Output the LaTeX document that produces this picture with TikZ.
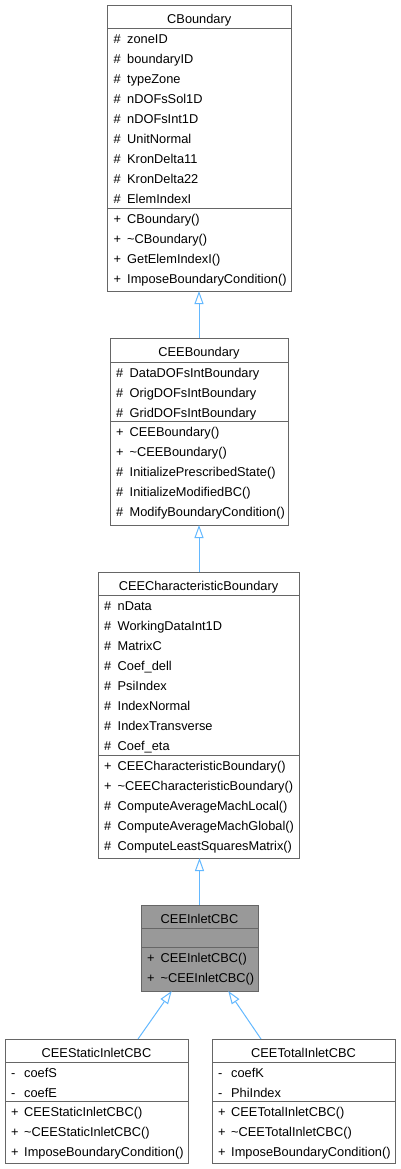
\documentclass[tikz,border=0pt]{standalone}
\usepackage{fontspec}
\setmainfont{Liberation Sans}
\usetikzlibrary{arrows.meta}
\definecolor{boxgray}{HTML}{666666}
\definecolor{edgeblue}{HTML}{63B8FF}
\definecolor{hilite}{HTML}{999999}

\begin{document}
\begin{tikzpicture}[
    x=1bp, y=-1bp,
    font=\fontsize{12.85pt}{15pt}\selectfont,
    classbox/.style={
      draw=boxgray,
      fill=white,
      line width=1bp,
      inner sep=0pt,
      outer sep=0pt,
      anchor=north west
    },
    divider/.style={draw=boxgray, line width=1bp},
    title/.style={anchor=base, inner sep=0pt},
    member/.style={anchor=base west, inner sep=0pt},
    inherit/.style={
      draw=edgeblue,
      line width=1bp,
      -{Triangle[open, length=13bp, width=9bp]}
    }
  ]
  \useasboundingbox (0,0) rectangle (400,1169);

  % CBoundary
  \node[classbox, minimum width=183.5bp, minimum height=286bp] (cb) at (107.5,5) {};
  \node[title] (cb-name) at (cb.north |- 0,23) {CBoundary};
  \draw[divider] (cb.west |- 0,28) -- (cb.east |- 0,28);
  \draw[divider] (cb.west |- 0,208) -- (cb.east |- 0,208);
  \foreach \n [count=\i] in {zoneID, boundaryID, typeZone, nDOFsSol1D, nDOFsInt1D,
      UnitNormal, KronDelta11, KronDelta22, ElemIndexI} {
    \node[member] (cb-s\i) at (113.5,23+20*\i) {\#};
    \node[member] (cb-a\i) at (127,23+20*\i) {\n};
  }
  \foreach \s/\n [count=\i] in {+/CBoundary(), +/\textasciitilde CBoundary(),
      +/GetElemIndexI(), +/ImposeBoundaryCondition()} {
    \node[member] (cb-t\i) at (113.5,203+20*\i) {\s};
    \node[member] (cb-m\i) at (127,203+20*\i) {\n};
  }

  % CEEBoundary
  \node[classbox, minimum width=178bp, minimum height=187bp] (ceeb) at (110,338) {};
  \node[title] (ceeb-name) at (ceeb.north |- 0,356) {CEEBoundary};
  \draw[divider] (ceeb.west |- 0,362) -- (ceeb.east |- 0,362);
  \draw[divider] (ceeb.west |- 0,421) -- (ceeb.east |- 0,421);
  \foreach \n [count=\i] in {DataDOFsIntBoundary, OrigDOFsIntBoundary, GridDOFsIntBoundary} {
    \node[member] (ceeb-s\i) at (116,357+20*\i) {\#};
    \node[member] (ceeb-a\i) at (129.5,357+20*\i) {\n};
  }
  \foreach \s/\n [count=\i] in {+/CEEBoundary(), +/\textasciitilde CEEBoundary(),
      \#/InitializePrescribedState(), \#/InitializeModifiedBC(),
      \#/ModifyBoundaryCondition()} {
    \node[member] (ceeb-t\i) at (116,416+20*\i) {\s};
    \node[member] (ceeb-m\i) at (129.5,416+20*\i) {\n};
  }

  % CEECharacteristicBoundary
  \node[classbox, minimum width=201bp, minimum height=286bp] (ceecb) at (98,572) {};
  \node[title] (ceecb-name) at (ceecb.north |- 0,590) {CEECharacteristicBoundary};
  \draw[divider] (ceecb.west |- 0,595) -- (ceecb.east |- 0,595);
  \draw[divider] (ceecb.west |- 0,755) -- (ceecb.east |- 0,755);
  \foreach \n [count=\i] in {nData, WorkingDataInt1D, MatrixC, Coef\_dell, PsiIndex,
      IndexNormal, IndexTransverse, Coef\_eta} {
    \node[member] (ceecb-s\i) at (104,590+20*\i) {\#};
    \node[member] (ceecb-a\i) at (117.5,590+20*\i) {\n};
  }
  \foreach \s/\n [count=\i] in {+/CEECharacteristicBoundary(),
      +/\textasciitilde CEECharacteristicBoundary(), \#/ComputeAverageMachLocal(),
      \#/ComputeAverageMachGlobal(), \#/ComputeLeastSquaresMatrix()} {
    \node[member] (ceecb-t\i) at (104,750+20*\i) {\s};
    \node[member] (ceecb-m\i) at (117.5,750+20*\i) {\n};
  }

  % CEEInletCBC
  \node[classbox, fill=hilite, minimum width=117bp, minimum height=86bp] (inlet) at (141,905) {};
  \node[title] (inlet-name) at (inlet.north |- 0,923) {CEEInletCBC};
  \draw[divider] (inlet.west |- 0,928) -- (inlet.east |- 0,928);
  \draw[divider] (inlet.west |- 0,947) -- (inlet.east |- 0,947);
  \foreach \s/\n [count=\i] in {+/CEEInletCBC(), +/\textasciitilde CEEInletCBC()} {
    \node[member] (inlet-t\i) at (147,942+20*\i) {\s};
    \node[member] (inlet-m\i) at (160.5,942+20*\i) {\n};
  }

  % CEEStaticInletCBC
  \node[classbox, minimum width=183bp, minimum height=124bp] (static) at (5,1039) {};
  \node[title] (static-name) at (static.north |- 0,1057) {CEEStaticInletCBC};
  \draw[divider] (static.west |- 0,1062) -- (static.east |- 0,1062);
  \draw[divider] (static.west |- 0,1101) -- (static.east |- 0,1101);
  \foreach \n [count=\i] in {coefS, coefE} {
    \node[member] (static-s\i) at (11,1057+20*\i) {-};
    \node[member] (static-a\i) at (24,1057+20*\i) {\n};
  }
  \foreach \n [count=\i] in {CEEStaticInletCBC(), \textasciitilde CEEStaticInletCBC(),
      ImposeBoundaryCondition()} {
    \node[member] (static-t\i) at (11,1096+20*\i) {+};
    \node[member] (static-m\i) at (24,1096+20*\i) {\n};
  }

  % CEETotalInletCBC
  \node[classbox, minimum width=183bp, minimum height=124bp] (total) at (212,1039) {};
  \node[title] (total-name) at (total.north |- 0,1057) {CEETotalInletCBC};
  \draw[divider] (total.west |- 0,1062) -- (total.east |- 0,1062);
  \draw[divider] (total.west |- 0,1101) -- (total.east |- 0,1101);
  \foreach \n [count=\i] in {coefK, PhiIndex} {
    \node[member] (total-s\i) at (218,1057+20*\i) {-};
    \node[member] (total-a\i) at (231,1057+20*\i) {\n};
  }
  \foreach \n [count=\i] in {CEETotalInletCBC(), \textasciitilde CEETotalInletCBC(),
      ImposeBoundaryCondition()} {
    \node[member] (total-t\i) at (218,1096+20*\i) {+};
    \node[member] (total-m\i) at (231,1096+20*\i) {\n};
  }

  % inheritance
  \draw[inherit] (ceeb.north) -- (ceeb.north |- cb.south);
  \draw[inherit] (ceecb.north -| ceeb.north) -- (ceeb.south);
  \draw[inherit] (inlet.north) -- (inlet.north |- ceecb.south);
  \draw[inherit] ([xshift=41.5bp]static.north) -- ([xshift=-27.8bp]inlet.south);
  \draw[inherit] ([xshift=-42.5bp]total.north) -- ([xshift=28.8bp]inlet.south);
\end{tikzpicture}
\end{document}
